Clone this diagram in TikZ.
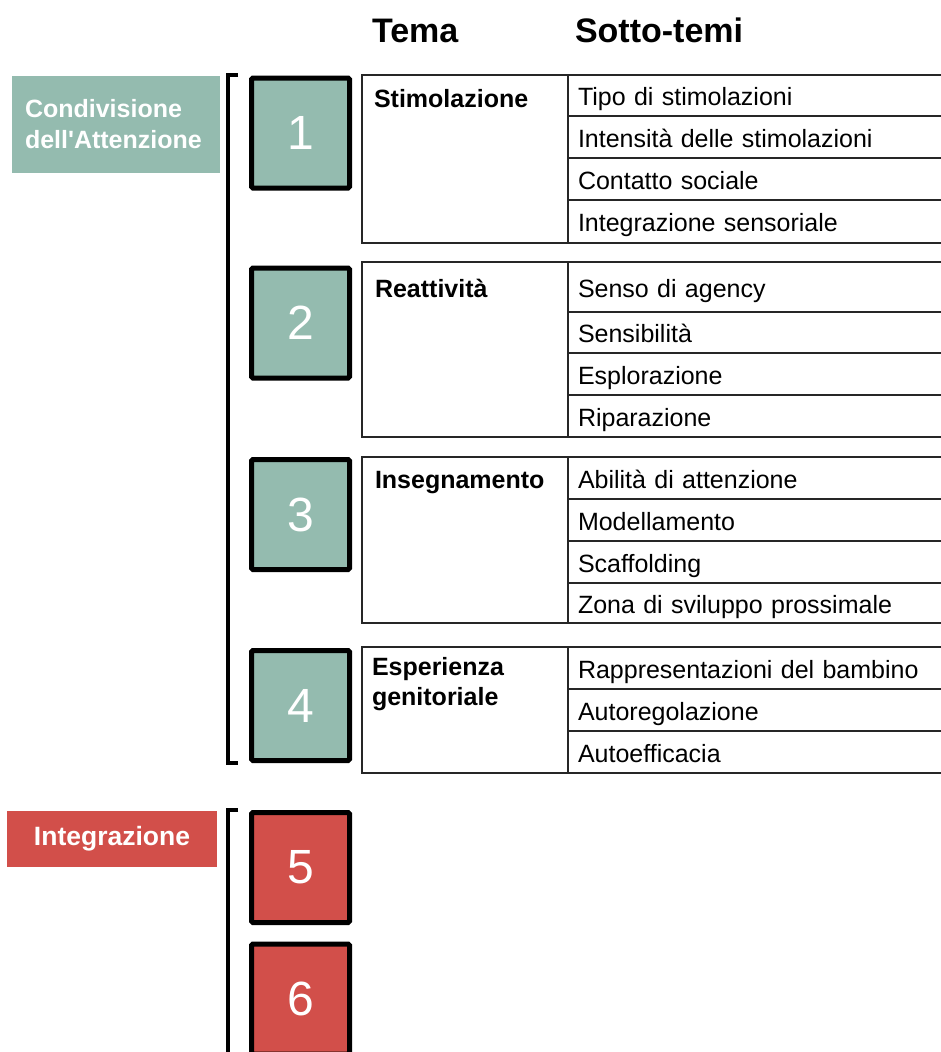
\documentclass[tikz,border=0pt]{standalone}
\usepackage{fontspec}
\setmainfont{Liberation Sans}[Ligatures=TeXReset]
\usepackage{xcolor}
\usetikzlibrary{positioning}

\definecolor{verdeTema}{RGB}{148,187,175}
\definecolor{rossoTema}{RGB}{210,79,74}

\begin{document}
\begin{tikzpicture}[x=1pt, y=-1pt, node distance=0pt,
    every node/.style={font=\fontsize{25}{30}\selectfont, outer sep=0pt},
    intestazione/.style={font=\fontsize{34}{40}\selectfont\bfseries, anchor=base west, inner sep=0pt},
    gruppo/.style={text=white, font=\fontsize{25}{31}\selectfont\bfseries},
    numero/.style={draw=black, fill=#1, line width=5pt, rounded corners=1.5pt, minimum width=98pt, minimum height=110pt, text=white, font=\fontsize{48}{48}\selectfont},
    parentesi/.style={line width=4pt},
    cellaTema/.style={draw=black!85, line width=2pt, anchor=north west, minimum width=206pt},
    temaTesto/.style={font=\fontsize{25}{30}\selectfont\bfseries, anchor=base west, inner sep=0pt, text width=190pt, align=left},
    cella/.style={draw=black!85, line width=2pt, minimum width=400pt, text width=380pt, inner xsep=10pt, inner ysep=2pt, text height=20pt, text depth=0pt, align=left}
]
    \fill[white] (0,0) rectangle (941,1052);
    \useasboundingbox (0,0) rectangle (941,1052);
    \clip (0,0) rectangle (941,1052);

    % Intestazioni
    \node[intestazione] (tema) at (372,42) {Tema};
    \node[intestazione] (sottotemi) at (575,42) {Sotto-temi};

    % Gruppi a sinistra
    \node[gruppo, fill=verdeTema, minimum width=208pt, minimum height=97pt, text width=182pt, inner xsep=13pt, align=left] (condivisione) at (116,124.5) {Condivisione\\dell'Attenzione};
    \node[gruppo, fill=rossoTema, minimum width=210pt, minimum height=56pt, align=center, font=\fontsize{26.5}{31}\selectfont\bfseries] (integrazione) at (112,839) {Integrazione};

    % Parentesi
    \draw[parentesi] (238,75) -| (228,763) -- (238,763);
    \draw[parentesi] (238,810) -| (228,1060);

    % Riquadri numerati
    \foreach \n/\y/\colore in {1/133/verdeTema, 2/323/verdeTema, 3/514.5/verdeTema, 4/705.5/verdeTema,
                               5/867.5/rossoTema, 6/999/rossoTema} {
        \node[numero=\colore] (num\n) at (300.5,\y) {\n};
    }

    % Tabella 1
    \node[cellaTema, minimum height=168pt] (cellaStim) at (362,75) {};
    \node[temaTesto] (stimolazione) at (374,107) {Stimolazione};
    \node[cella, anchor=north west, minimum height=41pt] (tipo) at (568,75) {Tipo di stimolazioni};
    \node[cella, below=of tipo, minimum height=42pt] (intensita) {Intensità delle stimolazioni};
    \node[cella, below=of intensita, minimum height=42pt] (contatto) {Contatto sociale};
    \node[cella, below=of contatto, minimum height=43pt] (sensoriale) {Integrazione sensoriale};

    % Tabella 2
    \node[cellaTema, minimum height=175pt] (cellaReatt) at (362,262) {};
    \node[temaTesto] (reattivita) at (375,297) {Reattività};
    \node[cella, anchor=north west, minimum height=50pt] (agency) at (568,262) {Senso di agency};
    \node[cella, below=of agency, minimum height=41pt] (sensibilita) {Sensibilità};
    \node[cella, below=of sensibilita, minimum height=42pt] (esplorazione) {Esplorazione};
    \node[cella, below=of esplorazione, minimum height=42pt] (riparazione) {Riparazione};

    % Tabella 3
    \node[cellaTema, minimum height=166pt] (cellaInseg) at (362,457) {};
    \node[temaTesto] (insegnamento) at (375,488) {Insegnamento};
    \node[cella, anchor=north west, minimum height=42pt] (abilita) at (568,457) {Abilità di attenzione};
    \node[cella, below=of abilita, minimum height=42pt] (modellamento) {Modellamento};
    \node[cella, below=of modellamento, minimum height=42pt] (scaffolding) {Scaffolding};
    \node[cella, below=of scaffolding, minimum height=40pt] (zona) {Zona di sviluppo prossimale};

    % Tabella 4
    \node[cellaTema, minimum height=126pt] (cellaEsper) at (362,647) {};
    \node[temaTesto] (esperienza) at (372,675) {Esperienza\\genitoriale};
    \node[cella, anchor=north west, minimum height=42pt] (rappresentazioni) at (568,647) {Rappresentazioni del bambino};
    \node[cella, below=of rappresentazioni, minimum height=42pt] (autoregolazione) {Autoregolazione};
    \node[cella, below=of autoregolazione, minimum height=42pt] (autoefficacia) {Autoefficacia};
\end{tikzpicture}
\end{document}
